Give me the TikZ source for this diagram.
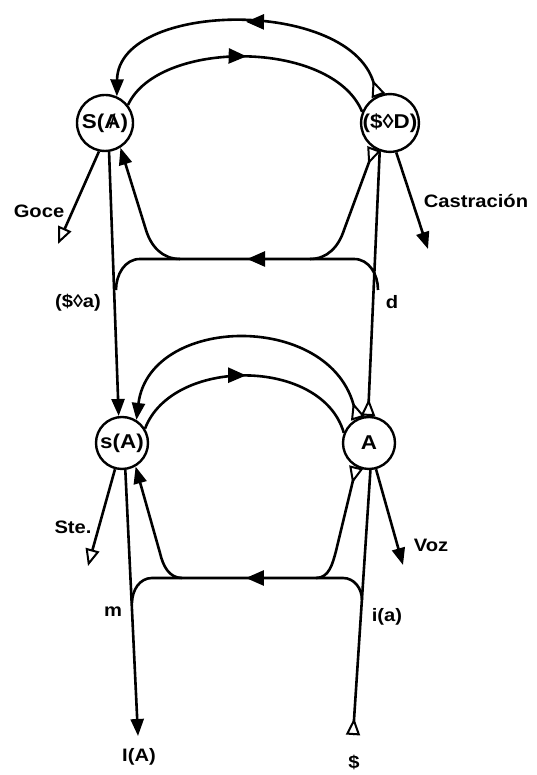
\documentclass[tikz,border=0pt]{standalone}
\usepackage{fontspec}
\setmainfont{Liberation Sans}[FakeStretch=1.12]
\usetikzlibrary{arrows.meta,decorations.markings}
\tikzset{
  FullTri/.tip={Triangle[length=17pt,width=13pt]},
  OpenTri/.tip={Triangle[fill=white,length=17pt,width=14pt,line width=2pt]},
  OpenMark/.tip={Triangle[fill=white,length=17pt,width=14pt,line width=2pt]},
  MidTri/.tip={Triangle[length=18pt,width=15pt]},
}
\begin{document}
\begin{tikzpicture}[x=1pt,y=1pt,
  lab/.style={font=\bfseries\fontsize{18}{18}\selectfont,inner sep=0pt},
  circ/.style={circle,draw,line width=2.4pt,inner sep=0pt,minimum size=#1,font=\bfseries\fontsize{20}{20}\selectfont},
  ln/.style={line width=2.6pt},
  midarr/.style={postaction={decorate,decoration={markings,mark=at position #1 with {\arrow{MidTri}}}}},
  orig/.style={postaction={decorate,decoration={markings,mark=at position 17pt with {\arrow{OpenMark}}}}},
]
\useasboundingbox (0,0) rectangle (537,775);
% circles
\node[circ=56pt] (SA) at (105,652) {S({\ooalign{A\cr\hidewidth{\mdseries/}\hidewidth\cr}})};
\node[circ=56pt] (SD) at (390,652) {(\$◊D)};
\node[circ=52pt] (sA) at (122,332) {s(A)};
\node[circ=52pt] (AA) at (369,332) {A};
% coordinates
\coordinate (goceEnd) at (58,531);
\coordinate (castEnd) at (428,526);
\coordinate (steEnd) at (88,209);
\coordinate (vozEnd) at (403,210);
\coordinate (IAend) at (138,39);
\coordinate (barS) at (353,40);
% upper arcs
\draw[ln,-FullTri,orig,midarr=0.5] (SD.118) .. controls (372,778) and (118,778) .. (SA.66);
\draw[ln,midarr=0.5] (SA.38) .. controls (158,736) and (332,736) .. (SD.158);
% lower arcs
\draw[ln,-FullTri,orig] (AA.118) .. controls (345,464) and (150,464) .. (sA.58);
\draw[ln,midarr=0.5] (sA.32) .. controls (172,418) and (322,418) .. (AA.158);
% verticals
\draw[ln,-FullTri] (SA.-82) -- (sA.97);
\draw[ln,orig] (AA.92) -- (SD.-110);
\draw[ln,-FullTri] (sA.-83) -- (IAend);
\draw[ln,orig] (barS) -- (AA.-87);
% side branches
\draw[ln,-OpenTri] (SA.-102) -- (goceEnd);
\draw[ln,-FullTri] (SD.-78) -- (castEnd);
\draw[ln,-OpenTri] (sA.-105) -- (steEnd);
\draw[ln,-FullTri] (AA.-75) -- (vozEnd);
% upper horizontal
\draw[ln,midarr=0.5] (378,485) to[out=90,in=0] (354,516) -- (140,516) to[out=180,in=90] (116,485);
\draw[ln,-FullTri] (180,516) to[out=180,in=-73] (146,545) -- (SA.-58);
\draw[ln,orig] (SD.-122) -- (344,545) to[out=-108,in=0] (310,516);
% lower horizontal
\draw[ln,midarr=0.5] (362,175) to[out=90,in=0] (343,197) -- (152,197) to[out=180,in=90] (132,172);
\draw[ln,-FullTri] (182,197) to[out=180,in=-77] (160,222) -- (sA.-60);
\draw[ln,orig] (AA.-118) -- (336,224) to[out=-105,in=0] (316,197);
% labels
\node[lab] (lgoce) at (39,564) {Goce};
\node[lab] (lcast) at (476,574) {Castración};
\node[lab] (lsa) at (78,472) {(\$◊a)};
\node[lab] (ld) at (392,473) {d};
\node[lab] (lste) at (73,248) {Ste.};
\node[lab] (lvoz) at (431,230) {Voz};
\node[lab] (lm) at (113,163) {m};
\node[lab] (lia) at (387,158) {i(a)};
\node[lab] (lIA) at (139,18) {I(A)};
\node[lab] (lS) at (354,13) {\$};
\end{tikzpicture}
\end{document}
